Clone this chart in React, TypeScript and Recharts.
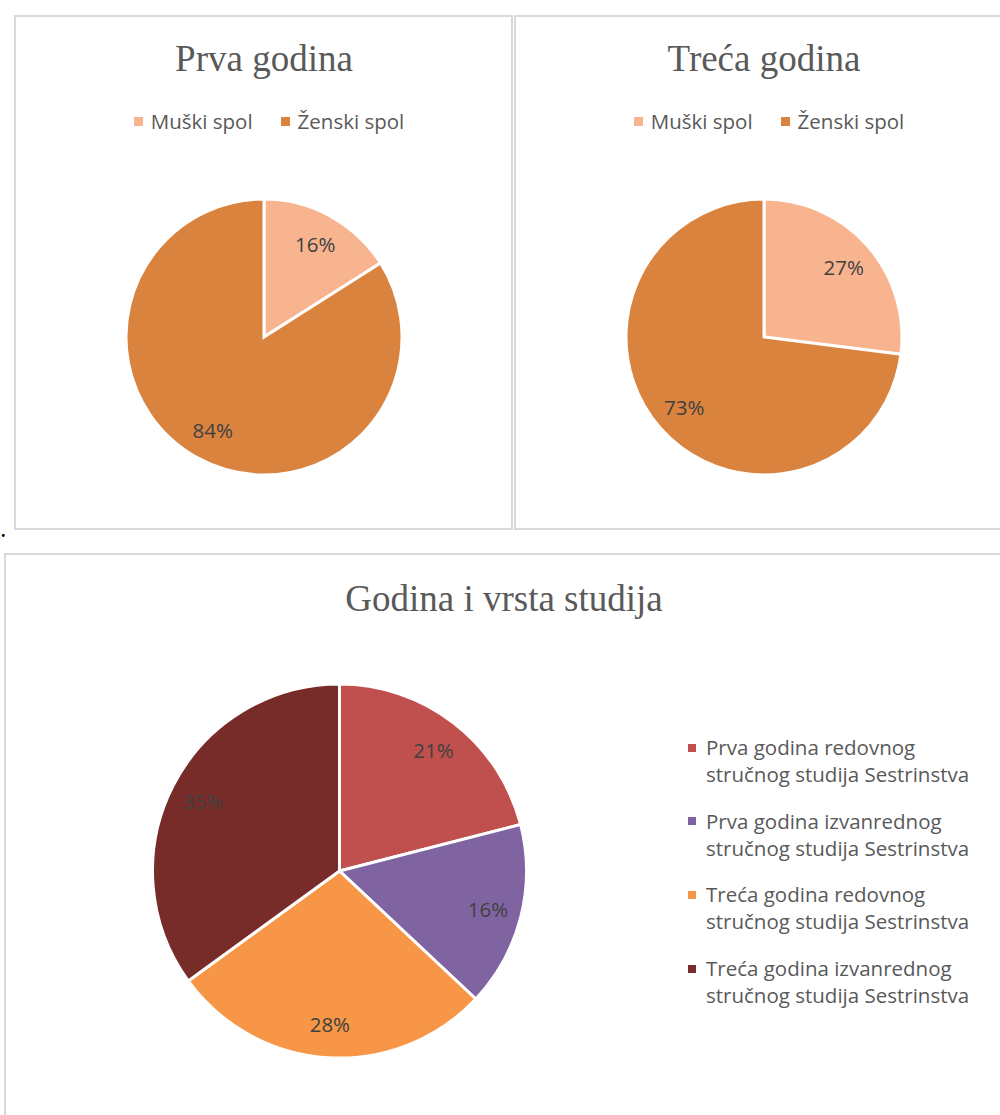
import React from 'react';
import { PieChart, Pie, Cell } from 'recharts';

// ---------- data ----------
const genderNames = ['Muški spol', 'Ženski spol'];
const genderColors = ['#F8B48E', '#DA833F'];
const firstYearValues = [16, 84];
const thirdYearValues = [27, 73];

const studyNames = [
  'Prva godina redovnog stručnog studija Sestrinstva',
  'Prva godina izvanrednog stručnog studija Sestrinstva',
  'Treća godina redovnog stručnog studija Sestrinstva',
  'Treća godina izvanrednog stručnog studija Sestrinstva',
];
const studyLegendLines = [
  ['Prva godina redovnog', 'stručnog studija Sestrinstva'],
  ['Prva godina izvanrednog', 'stručnog studija Sestrinstva'],
  ['Treća godina redovnog', 'stručnog studija Sestrinstva'],
  ['Treća godina izvanrednog', 'stručnog studija Sestrinstva'],
];
const studyValues = [21, 16, 28, 35];
const studyColors = ['#C0504D', '#8064A2', '#F79646', '#772C2A'];

const firstYearData = genderNames.map((name, i) => ({ name, value: firstYearValues[i] }));
const thirdYearData = genderNames.map((name, i) => ({ name, value: thirdYearValues[i] }));
const studyData = studyNames.map((name, i) => ({ name, value: studyValues[i] }));

// ---------- styles ----------
const SERIF = "'Liberation Serif', 'Times New Roman', serif";
const SANS = "'Open Sans', 'Noto Sans', sans-serif";
const RAD = Math.PI / 180;

const makeLabel = (ratio: number) => (p: any) => {
  const r = p.outerRadius * ratio;
  const x = p.cx + r * Math.cos(-p.midAngle * RAD);
  const y = p.cy + r * Math.sin(-p.midAngle * RAD);
  return (
    <text
      x={x}
      y={y}
      textAnchor="middle"
      dominantBaseline="central"
      fill="#404040"
      fontSize={20.5}
      fontFamily={SANS}
    >
      {`${Math.round(p.percent * 100)}%`}
    </text>
  );
};

const panelStyle = (left: number, top: number, width: number, height: number): React.CSSProperties => ({
  position: 'absolute',
  left,
  top,
  width,
  height,
  border: '2px solid #D9D9D9',
  boxSizing: 'border-box',
  background: '#FFFFFF',
});

const Title = ({ text, center, top }: { text: string; center: number; top: number }) => (
  <div
    style={{
      position: 'absolute',
      left: center - 300,
      width: 600,
      top,
      textAlign: 'center',
      fontFamily: SERIF,
      fontSize: 37,
      lineHeight: '41px',
      color: '#595959',
      whiteSpace: 'nowrap',
    }}
  >
    {text}
  </div>
);

const GenderLegend = ({ center, top }: { center: number; top: number }) => (
  <div
    style={{
      position: 'absolute',
      left: center - 250,
      width: 500,
      top,
      display: 'flex',
      justifyContent: 'center',
      gap: 28,
      fontFamily: SANS,
      fontSize: 20.5,
      lineHeight: '24px',
      color: '#595959',
    }}
  >
    {genderNames.map((n, i) => (
      <div key={n} style={{ display: 'flex', alignItems: 'center' }}>
        <span style={{ width: 9, height: 9, background: genderColors[i], marginRight: 8, display: 'inline-block' }} />
        <span style={{ whiteSpace: 'nowrap' }}>{n}</span>
      </div>
    ))}
  </div>
);

const GenderPanel = ({
  left,
  title,
  data,
}: {
  left: number;
  title: string;
  data: { name: string; value: number }[];
}) => (
  <div style={panelStyle(left, 15, left === 14 ? 499 : 600, 515)}>
    <Title text={title} center={248} top={21} />
    <GenderLegend center={253} top={92} />
    <div style={{ position: 'absolute', left: 0, top: 0 }}>
      <PieChart width={495} height={511} margin={{ top: 0, right: 0, bottom: 0, left: 0 }}>
        <Pie
          data={data}
          dataKey="value"
          nameKey="name"
          cx={248}
          cy={320}
          outerRadius={138}
          startAngle={90}
          endAngle={-270}
          stroke="#FFFFFF"
          strokeWidth={3}
          label={makeLabel(0.77)}
          labelLine={false}
          isAnimationActive={false}
        >
          {data.map((d, i) => (
            <Cell key={d.name} fill={genderColors[i]} />
          ))}
        </Pie>
      </PieChart>
    </div>
  </div>
);

export default function App() {
  return (
    <div
      style={{
        position: 'absolute',
        left: 0,
        top: 0,
        width: 1000,
        height: 1115,
        overflow: 'hidden',
        background: '#FFFFFF',
      }}
    >
      <GenderPanel left={14} title="Prva godina" data={firstYearData} />
      <GenderPanel left={514} title="Treća godina" data={thirdYearData} />

      <div
        style={{
          position: 'absolute',
          left: 1,
          top: 521,
          fontFamily: SERIF,
          fontSize: 18,
          fontWeight: 'bold',
          color: '#000000',
        }}
      >
        .
      </div>

      <div style={panelStyle(4, 553, 1020, 600)}>
        <Title text="Godina i vrsta studija" center={498} top={23} />
        <div style={{ position: 'absolute', left: 0, top: 0 }}>
          <PieChart width={994} height={560} margin={{ top: 0, right: 0, bottom: 0, left: 0 }}>
            <Pie
              data={studyData}
              dataKey="value"
              nameKey="name"
              cx={333.5}
              cy={316}
              outerRadius={187}
              startAngle={90}
              endAngle={-270}
              stroke="#FFFFFF"
              strokeWidth={3}
              label={makeLabel(0.82)}
              labelLine={false}
              isAnimationActive={false}
            >
              {studyData.map((d, i) => (
                <Cell key={d.name} fill={studyColors[i]} />
              ))}
            </Pie>
          </PieChart>
        </div>
        <div
          style={{
            position: 'absolute',
            left: 682,
            top: 179,
            fontFamily: SANS,
            fontSize: 20.5,
            lineHeight: '27px',
            color: '#595959',
          }}
        >
          {studyLegendLines.map((lines, i) => (
            <div key={studyNames[i]} style={{ position: 'relative', height: 73.7, paddingLeft: 18 }}>
              <span
                style={{
                  position: 'absolute',
                  left: 0,
                  top: 9.5,
                  width: 8,
                  height: 8,
                  background: studyColors[i],
                }}
              />
              {lines.map((l) => (
                <div key={l} style={{ whiteSpace: 'nowrap' }}>
                  {l}
                </div>
              ))}
            </div>
          ))}
        </div>
      </div>
    </div>
  );
}
